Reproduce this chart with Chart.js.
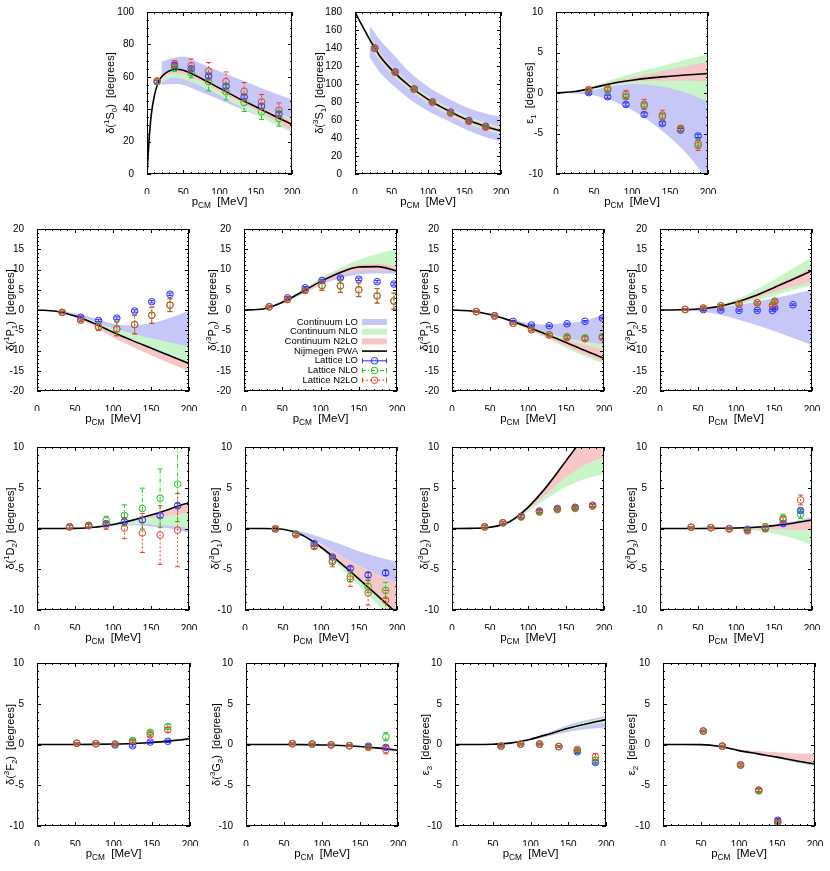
<!DOCTYPE html>
<html>
<head>
<meta charset="utf-8">
<script src="https://cdn.jsdelivr.net/npm/chart.js@4.4.1/dist/chart.umd.min.js"></script>
<style>
  body { margin: 0; background: #fff; }
  #wrap { position: relative; width: 830px; height: 871px; }
  #wrap canvas { position: absolute; left: 0; top: 0; }
</style>
</head>
<body>
<div id="wrap"></div>
<script>
// ── shared momentum grid (MeV) for bands and PWA curves ──────────
const GRID = [0, 25, 50, 75, 100, 125, 150, 175, 200];
const LEGEND = ['Continuum LO', 'Continuum NLO', 'Continuum N2LO', 'Nijmegen PWA', 'Lattice LO', 'Lattice NLO', 'Lattice N2LO'];

// bands are [lower, upper] per grid point, lattice points are [value, error]

// ── 1S0 ──
const p1S0_pwaX = [0, 3, 6, 10, 15, 20, 30, 40, 50, 75, 100, 125, 150, 175, 200];
const p1S0_pwa = [0, 22, 37, 48, 56, 60, 63.5, 64.7, 64, 59, 53, 47, 41.5, 36, 30.6];
const p1S0_bandX = [20, 35, 50, 75, 100, 125, 150, 175, 200];
const p1S0_LO = [[55, 69.5], [55.5, 71.5], [55, 72.5], [50.5, 68], [46, 63.5], [41, 59], [36.5, 54.5], [32, 50], [28, 46]];
const p1S0_NLO = [[56.5, 59.5], [59.5, 63.5], [58.5, 62.5], [54, 58.5], [48.5, 53.5], [42.5, 47.5], [36.5, 42], [31, 38], [25.5, 34.3]];
const p1S0_N2LO = [[58.5, 60.5], [62, 65], [61.5, 64.5], [57, 60], [51, 54], [45, 48], [39.5, 42.5], [33, 37.5], [27, 33.3]];
const p1S0_latX = [14, 38, 61, 85, 109, 134, 158, 182];
const p1S0_latLO = [[57, 0.8], [67, 1], [65, 1], [60.4, 1.2], [54.2, 1.2], [47.6, 1.2], [41.9, 1.3], [37, 1.3]];
const p1S0_latNLO = [[57, 1.5], [65.5, 2], [62.4, 3], [56.9, 5.6], [50.7, 5], [44.1, 5.5], [38.4, 4.7], [34.3, 4.7]];
const p1S0_latN2LO = [[57.5, 1.5], [68, 2], [67, 4], [63.4, 5.4], [57, 6], [51, 5.5], [44.6, 4.5], [39.4, 4.5]];

// ── 3S1 ──
const p3S1_pwaX = [0, 5, 10, 15, 20, 25, 35, 50, 75, 100, 125, 150, 175, 200];
const p3S1_pwa = [180, 172, 164.5, 157, 149.5, 143, 130, 116, 97.5, 83, 71.5, 61.5, 54, 47.5];
const p3S1_bandX = [20, 35, 50, 75, 100, 125, 150, 175, 200];
const p3S1_LO = [[130, 165], [112, 148], [100, 135], [83, 113], [70, 97], [60, 85], [50, 75], [42, 68], [36, 63.5]];
const p3S1_NLO = [[144, 154], [125, 134], [111.5, 120], [93.5, 101.5], [79, 87], [67.5, 75.5], [57.5, 65.5], [50, 58], [44, 52]];
const p3S1_N2LO = [[146, 152], [127, 132.5], [113, 119], [95, 100], [80.5, 85], [69, 73.5], [59, 63.5], [51.5, 56], [45.5, 50.5]];
const p3S1_latX = [27, 55, 81, 106, 131, 156, 179];
const p3S1_latLO = [[140, 1], [113.5, 1], [94.6, 1], [80.2, 1], [68.8, 1], [59.5, 1], [53, 1]];
const p3S1_latNLO = [[139.5, 1], [113, 1], [94.2, 1], [79.8, 1], [68, 1], [58.8, 1], [52.3, 1]];
const p3S1_latN2LO = [[139.5, 1.5], [113, 1.5], [94.3, 1.5], [79.7, 1.5], [67.6, 1.5], [58.5, 1.5], [52, 1.5]];

// ── eps1 ──
const e1_pwa = [0, 0.18, 0.68, 1.2, 1.58, 1.87, 2.07, 2.25, 2.4];
const e1_LO = [[0, 0], [-0.05, 0.1], [-0.3, 0.4], [-1.0, 0.9], [-2.1, 1.1], [-3.6, 1.1], [-5.5, 0.9], [-7.8, 0.4], [-10.8, -1.0]];
const e1_NLO = [[0, 0], [0.1, 0.2], [0.5, 0.9], [0.9, 1.7], [1.1, 2.4], [1.0, 3.0], [0.6, 3.6], [-0.1, 4.2], [-1.1, 4.8]];
const e1_N2LO = [[0, 0], [0.12, 0.2], [0.6, 0.8], [1.1, 1.4], [1.4, 1.9], [1.5, 2.4], [1.5, 2.9], [1.5, 3.4], [1.4, 3.8]];
const e1_latX = [43, 68, 92, 116, 140, 164, 187];
const e1_latLO = [[0.05, 0.2], [-0.47, 0.2], [-1.42, 0.2], [-2.65, 0.2], [-3.76, 0.2], [-4.58, 0.2], [-5.3, 0.2]];
const e1_latNLO = [[0.35, 0.2], [0.35, 0.3], [-0.47, 0.3], [-1.6, 0.4], [-2.94, 0.4], [-4.5, 0.3], [-6.2, 0.5]];
const e1_latN2LO = [[0.43, 0.2], [0.55, 0.3], [-0.18, 0.5], [-1.38, 0.6], [-2.73, 0.6], [-4.37, 0.3], [-6.5, 0.6]];

// ── 1P1 ──
const p1P1_pwa = [0, -0.3, -1.5, -3.3, -5.5, -7.5, -9.4, -11.3, -13.2];
const p1P1_LO = [[0, 0], [-0.3, -0.2], [-1.5, -0.8], [-3.3, -2], [-5.3, -3.4], [-6.8, -3.8], [-8.2, -3.3], [-9.2, -2], [-9.7, -0.2]];
const p1P1_NLO = [[0, 0], [-0.3, -0.2], [-1.5, -1.2], [-3.3, -2.8], [-5.5, -4.5], [-7.5, -5.8], [-9.4, -7], [-11.3, -8], [-13.2, -9]];
const p1P1_N2LO = [[0, 0], [-0.4, -0.3], [-1.8, -1.5], [-4, -3.3], [-6.8, -5.5], [-9, -7.5], [-11.2, -9.4], [-13.2, -11.3], [-15.1, -13.2]];
const p1P1_latX = [33, 57.5, 81, 105, 128.5, 151, 175];
const p1P1_latLO = [[-0.6, 0.3], [-1.8, 0.3], [-2.6, 0.3], [-2.0, 0.3], [-0.25, 0.3], [2.05, 0.3], [3.9, 0.3]];
const p1P1_latNLO = [[-0.6, 0.3], [-2.5, 0.4], [-4.1, 0.8], [-4.6, 1.7], [-3.6, 2.3], [-1.3, 2.0], [1.2, 1.6]];
const p1P1_latN2LO = [[-0.6, 0.3], [-2.5, 0.4], [-4.3, 0.8], [-4.7, 1.7], [-3.6, 2.3], [-1.3, 2.0], [1.2, 1.6]];

// ── 3P0 ──
const p3P0_pwa = [0, 0.25, 1.9, 4.4, 7.0, 9.2, 10.6, 10.7, 9.6];
const p3P0_LO = [[0, 0], [0.2, 0.25], [1.6, 1.9], [3.8, 4.3], [6.2, 6.9], [7.8, 8.6], [8.8, 9.8], [9.0, 10.0], [9.0, 9.9]];
const p3P0_NLO = [[0, 0], [0.25, 0.3], [1.9, 2.1], [4.5, 4.8], [7.2, 7.9], [9.2, 10.4], [10.3, 12.4], [10.4, 13.9], [10.0, 15.1]];
const p3P0_N2LO = [[0, 0], [0.2, 0.3], [1.7, 2.0], [4.0, 4.6], [6.5, 7.4], [8.4, 9.7], [9.6, 11.2], [9.8, 11.4], [9.6, 10.8]];
const p3P0_latX = [33, 57, 80, 102, 126, 150, 174, 196];
const p3P0_latLO = [[0.8, 0.2], [3.0, 0.2], [5.5, 0.3], [7.3, 0.3], [7.9, 0.3], [7.6, 0.3], [7.0, 0.3], [6.4, 0.3]];
const p3P0_latNLO = [[0.8, 0.2], [2.6, 0.3], [4.9, 0.5], [6.1, 1.2], [6.0, 1.6], [5.0, 1.7], [3.5, 1.8], [2.2, 2.0]];
const p3P0_latN2LO = [[0.8, 0.2], [2.6, 0.3], [4.8, 0.5], [6.0, 1.2], [5.9, 1.6], [5.0, 1.7], [3.5, 1.8], [2.2, 2.0]];

// ── 3P1 ──
const p3P1_pwa = [0, -0.25, -1.1, -2.5, -4.2, -6.1, -8.0, -10.0, -11.9];
const p3P1_LO = [[0, 0], [-0.25, -0.2], [-1.1, -1.0], [-2.6, -2.2], [-4.3, -3.2], [-6.0, -3.6], [-7.2, -3.3], [-8.0, -2.6], [-8.6, -1.2]];
const p3P1_NLO = [[0, 0], [-0.3, -0.2], [-1.2, -1.0], [-2.8, -2.4], [-4.8, -4.0], [-7.0, -5.6], [-9.3, -6.9], [-11.5, -7.8], [-13.3, -8.6]];
const p3P1_N2LO = [[0, 0], [-0.3, -0.25], [-1.2, -1.05], [-2.7, -2.45], [-4.6, -4.1], [-6.7, -5.8], [-8.9, -7.3], [-10.9, -8.6], [-12.7, -9.8]];
const p3P1_latX = [32, 56, 80.4, 104.6, 128, 151.4, 175, 197.8];
const p3P1_latLO = [[-0.4, 0.2], [-1.4, 0.2], [-2.8, 0.2], [-3.7, 0.2], [-3.9, 0.2], [-3.4, 0.2], [-2.8, 0.2], [-2.0, 0.2]];
const p3P1_latNLO = [[-0.4, 0.2], [-1.5, 0.2], [-3.3, 0.3], [-4.8, 0.3], [-6.1, 0.3], [-6.6, 0.4], [-6.9, 0.5], [-6.6, 0.5]];
const p3P1_latN2LO = [[-0.4, 0.2], [-1.5, 0.2], [-3.3, 0.3], [-4.9, 0.3], [-6.2, 0.3], [-6.8, 0.4], [-7.1, 0.5], [-6.8, 0.5]];

// ── 3P2 ──
const p3P2_pwa = [0, 0.05, 0.25, 0.8, 1.9, 3.5, 5.5, 7.6, 9.7];
const p3P2_LO = [[0, 0], [-0.05, 0.05], [-0.3, 0.2], [-1.0, 0.6], [-2.2, 1.2], [-3.6, 2.0], [-5.2, 2.9], [-6.9, 3.9], [-8.7, 5.0]];
const p3P2_NLO = [[0, 0], [0.05, 0.05], [0.2, 0.3], [0.6, 1.0], [1.3, 2.6], [2.3, 4.8], [3.5, 7.5], [4.9, 10.3], [6.2, 13.0]];
const p3P2_N2LO = [[0, 0], [0.05, 0.05], [0.22, 0.28], [0.7, 0.9], [1.6, 2.2], [2.9, 3.9], [4.4, 6.0], [5.8, 8.2], [7.0, 10.5]];
const p3P2_latXLO = [33, 57, 80, 104, 128, 148, 151, 175];
const p3P2_latX = [33, 57, 80, 104, 128, 148, 151];
const p3P2_latLO = [[0.1, 0.2], [0.1, 0.2], [0, 0.2], [-0.1, 0.2], [-0.1, 0.2], [-0.1, 0.2], [0.5, 0.2], [1.3, 0.2]];
const p3P2_latNLO = [[0.15, 0.2], [0.45, 0.2], [1.0, 0.3], [1.5, 0.3], [1.8, 0.3], [1.2, 0.3], [2.2, 0.3]];
const p3P2_latN2LO = [[0.15, 0.2], [0.5, 0.2], [1.05, 0.3], [1.5, 0.3], [1.75, 0.3], [1.1, 0.3], [2.1, 0.3]];

// ── 1D2 ──
const p1D2_pwa = [0, 0, 0.02, 0.15, 0.5, 1.0, 1.65, 2.4, 3.2];
const p1D2_LO = [[0, 0], [0, 0], [0, 0.02], [0.1, 0.15], [0.35, 0.5], [0.4, 0.6], [0.25, 0.55], [0, 0.4], [-0.5, 0.1]];
const p1D2_NLO = [[0, 0], [0, 0], [0, 0.02], [0.1, 0.15], [0.4, 0.5], [0.55, 0.9], [0.5, 1.3], [0.35, 1.65], [0.1, 2.0]];
const p1D2_N2LO = [[0, 0], [0, 0], [0.01, 0.02], [0.13, 0.15], [0.47, 0.5], [0.85, 1.0], [1.25, 1.65], [1.6, 2.4], [1.95, 3.2]];
const p1D2_latX = [43, 68, 91, 115, 138.6, 162, 185];
const p1D2_latLO = [[0.2, 0.2], [0.35, 0.2], [0.6, 0.2], [0.85, 0.3], [1.05, 0.3], [1.6, 0.3], [2.8, 0.3]];
const p1D2_latNLO = [[0.2, 0.2], [0.4, 0.2], [1.0, 0.5], [1.6, 1.3], [2.45, 2.5], [3.7, 3.6], [5.45, 4.6]];
const p1D2_latN2LO = [[0.2, 0.2], [0.35, 0.2], [0.4, 0.5], [0.05, 1.3], [-0.55, 2.4], [-0.8, 3.6], [-0.2, 4.5]];

// ── 3D1 ──
const p3D1_pwa = [0, 0, -0.1, -0.8, -2.3, -4.2, -6.2, -8.3, -10.4];
const p3D1_LO = [[0, 0], [0, 0], [-0.1, -0.05], [-0.7, -0.4], [-1.9, -1.1], [-3.3, -1.9], [-4.6, -2.8], [-5.7, -3.5], [-6.8, -4.1]];
const p3D1_NLO = [[0, 0], [0, 0], [-0.12, -0.1], [-0.9, -0.8], [-2.5, -2.3], [-4.7, -4.2], [-7.0, -6.2], [-9.4, -8.3], [-11.8, -10.4]];
const p3D1_N2LO = [[0, 0], [0, 0], [-0.1, -0.1], [-0.8, -0.7], [-2.3, -2.0], [-4.2, -3.3], [-6.2, -4.6], [-8.3, -5.7], [-10.4, -6.8]];
const p3D1_latX = [40, 67, 91, 115, 138.5, 162, 185];
const p3D1_latLO = [[-0.05, 0.2], [-0.7, 0.2], [-1.85, 0.2], [-3.5, 0.2], [-4.9, 0.2], [-5.7, 0.3], [-5.45, 0.3]];
const p3D1_latNLO = [[-0.05, 0.2], [-0.7, 0.2], [-2.15, 0.3], [-3.9, 0.5], [-5.9, 0.6], [-7.1, 0.8], [-7.6, 1.0]];
const p3D1_latN2LO = [[-0.05, 0.2], [-0.75, 0.2], [-2.2, 0.3], [-4.1, 0.6], [-6.2, 0.9], [-7.9, 1.5], [-8.8, 1.2]];

// ── 3D2 ──
const p3D2_pwa = [0, 0.02, 0.15, 0.8, 2.6, 5.2, 8.3, 11.5, 15];
const p3D2_NLO = [[0, 0], [0.02, 0.02], [0.14, 0.15], [0.7, 0.8], [2.1, 2.5], [3.7, 4.6], [5.1, 6.5], [6.1, 7.8], [6.7, 8.7]];
const p3D2_N2LO = [[0, 0], [0.02, 0.02], [0.15, 0.15], [0.75, 0.8], [2.3, 2.6], [4.3, 5.2], [6.3, 8.3], [7.8, 11.5], [8.7, 15]];
const p3D2_latX = [43, 67, 91, 115, 138.6, 162, 185];
const p3D2_latLO = [[0.2, 0.15], [0.7, 0.15], [1.5, 0.15], [2.15, 0.15], [2.45, 0.15], [2.6, 0.15], [2.85, 0.15]];
const p3D2_latNLO = [[0.18, 0.15], [0.68, 0.15], [1.4, 0.15], [2.0, 0.15], [2.3, 0.15], [2.45, 0.15], [2.75, 0.15]];
const p3D2_latN2LO = [[0.2, 0.15], [0.7, 0.15], [1.45, 0.15], [2.1, 0.15], [2.4, 0.15], [2.55, 0.15], [2.8, 0.15]];

// ── 3D3 ──
const p3D3_pwa = [0, 0, 0, 0.02, 0.06, 0.15, 0.35, 0.65, 1.05];
const p3D3_LO = [[0, 0], [0, 0], [0, 0], [0.02, 0.03], [0.05, 0.08], [0.13, 0.2], [0.3, 0.45], [0.55, 0.85], [0.9, 1.45]];
const p3D3_NLO = [[0, 0], [0, 0], [0, 0], [0, 0.02], [-0.05, 0.05], [-0.25, 0.1], [-0.6, 0.2], [-1.2, 0.2], [-2.0, 0.2]];
const p3D3_N2LO = [[0, 0], [0, 0], [0, 0], [0, 0.02], [0, 0.06], [-0.05, 0.15], [-0.1, 0.35], [-0.15, 0.65], [-0.2, 1.0]];
const p3D3_latX = [41, 67, 91, 115, 138.5, 162, 185];
const p3D3_latLO = [[0.15, 0.1], [0.1, 0.1], [0, 0.1], [-0.1, 0.15], [0, 0.2], [0.6, 0.2], [2.2, 0.2]];
const p3D3_latNLO = [[0.15, 0.1], [0.1, 0.1], [-0.05, 0.1], [-0.2, 0.2], [0.2, 0.4], [1.25, 0.5], [1.75, 0.5]];
const p3D3_latN2LO = [[0.15, 0.1], [0.1, 0.1], [-0.05, 0.1], [-0.3, 0.2], [0, 0.4], [1.05, 0.4], [3.5, 0.6]];

// ── 3F2 ──
const p3F2_pwa = [0, 0, 0, 0.02, 0.06, 0.13, 0.25, 0.45, 0.7];
const p3F2_LO = [[0, 0], [0, 0], [-0.02, 0.02], [-0.02, 0.06], [0.01, 0.11], [0.07, 0.19], [0.17, 0.33], [0.34, 0.56], [0.56, 0.84]];
const p3F2_NLO = [[0, 0], [0, 0], [0, 0], [0.01, 0.03], [0.04, 0.08], [0.1, 0.16], [0.21, 0.29], [0.4, 0.5], [0.63, 0.77]];
const p3F2_N2LO = [[0, 0], [0, 0], [0, 0], [0.015, 0.025], [0.05, 0.07], [0.12, 0.14], [0.23, 0.27], [0.43, 0.47], [0.67, 0.73]];
const p3F2_latX = [52, 77, 102, 125, 148, 171];
const p3F2_latLO = [[0.15, 0.1], [0.1, 0.1], [-0.05, 0.1], [-0.15, 0.15], [0.3, 0.15], [0.4, 0.15]];
const p3F2_latNLO = [[0.15, 0.1], [0.1, 0.1], [0.05, 0.1], [0.5, 0.2], [1.5, 0.25], [2.2, 0.3]];
const p3F2_latN2LO = [[0.15, 0.1], [0.1, 0.1], [0.05, 0.1], [0.3, 0.2], [1.2, 0.25], [1.8, 0.3]];

// ── 3G3 ──
const p3G3_pwa = [0, 0, 0, -0.02, -0.06, -0.12, -0.25, -0.45, -0.7];
const p3G3_LO = [[0, 0], [0, 0], [-0.02, 0.02], [-0.05, 0.01], [-0.1, -0.02], [-0.18, -0.06], [-0.33, -0.17], [-0.56, -0.34], [-0.85, -0.56]];
const p3G3_NLO = [[0, 0], [0, 0], [0, 0], [-0.03, -0.01], [-0.08, -0.04], [-0.15, -0.09], [-0.29, -0.21], [-0.5, -0.4], [-0.77, -0.63]];
const p3G3_N2LO = [[0, 0], [0, 0], [0, 0], [-0.025, -0.015], [-0.07, -0.05], [-0.13, -0.11], [-0.27, -0.23], [-0.47, -0.43], [-0.73, -0.67]];
const p3G3_latX = [61, 87, 112, 136, 161, 184];
const p3G3_latLO = [[0.1, 0.1], [0.05, 0.1], [-0.05, 0.1], [-0.15, 0.1], [-0.2, 0.15], [-0.35, 0.2]];
const p3G3_latNLO = [[0.1, 0.1], [0.05, 0.1], [-0.05, 0.1], [-0.15, 0.1], [-0.3, 0.15], [0.95, 0.5]];
const p3G3_latN2LO = [[0.1, 0.1], [0.05, 0.1], [-0.05, 0.1], [-0.15, 0.1], [-0.35, 0.15], [-0.65, 0.5]];

// ── eps3 ──
const e3_pwa = [0, 0, 0.03, 0.2, 0.65, 1.3, 2.0, 2.55, 3.05];
const e3_LO = [[0, 0], [0, 0], [0.02, 0.04], [0.15, 0.25], [0.55, 0.75], [1.05, 1.5], [1.55, 2.4], [1.9, 3.0], [2.1, 3.5]];
const e3_NLO = [[0, 0], [0, 0], [0.03, 0.03], [0.18, 0.22], [0.6, 0.7], [1.2, 1.4], [1.8, 2.2], [2.3, 2.8], [2.7, 3.3]];
const e3_N2LO = [[0, 0], [0, 0], [0.03, 0.03], [0.19, 0.21], [0.62, 0.68], [1.25, 1.35], [1.9, 2.1], [2.45, 2.65], [2.9, 3.2]];
const e3_latX = [61, 87, 112, 137.5, 162, 186];
const e3_latLO = [[-0.2, 0.1], [0.05, 0.1], [0.05, 0.1], [-0.25, 0.1], [-0.9, 0.15], [-2.2, 0.2]];
const e3_latNLO = [[-0.2, 0.1], [0.05, 0.1], [0.05, 0.1], [-0.25, 0.1], [-0.75, 0.15], [-1.9, 0.3]];
const e3_latN2LO = [[-0.2, 0.1], [0.05, 0.1], [0.05, 0.1], [-0.25, 0.1], [-0.6, 0.15], [-1.5, 0.4]];

// ── eps2 ──
const e2_pwa = [0, 0, -0.02, -0.25, -0.75, -1.15, -1.55, -2.0, -2.4];
const e2_LO = [[0, 0], [0, 0], [-0.03, -0.01], [-0.28, -0.22], [-0.8, -0.7], [-1.25, -1.05], [-1.7, -1.4], [-2.2, -1.8], [-2.65, -2.2]];
const e2_N2LO = [[0, 0], [0, 0], [-0.02, -0.02], [-0.25, -0.2], [-0.75, -0.6], [-1.15, -0.8], [-1.55, -0.95], [-2.0, -1.1], [-2.35, -1.15]];
const e2_latX = [53, 78, 102, 126, 151];
const e2_latLO = [[1.65, 0.1], [-0.2, 0.1], [-2.5, 0.15], [-5.6, 0.2], [-9.3, 0.2]];
const e2_latNLO = [[1.65, 0.1], [-0.2, 0.1], [-2.55, 0.15], [-5.7, 0.2], [-9.6, 0.2]];
const e2_latN2LO = [[1.65, 0.1], [-0.2, 0.1], [-2.5, 0.15], [-5.6, 0.2], [-9.5, 0.2]];

// ── panel layout (plot box in page px, y-title x, y axis [min,max,step,minor]) ──
const Y20 = [-20, 20, 5, 5], Y10 = [-10, 10, 5, 5];
const PANELS = [
  { title: 'δ(^1S_0)  [degrees]', box: [147, 12, 292, 174], ttlX: 110, y: [0, 100, 20, 4],
    pwaX: p1S0_pwaX, pwa: p1S0_pwa, bandX: p1S0_bandX, bands: { LO: p1S0_LO, NLO: p1S0_NLO, N2LO: p1S0_N2LO },
    latX: p1S0_latX, lat: { LO: p1S0_latLO, NLO: p1S0_latNLO, N2LO: p1S0_latN2LO } },
  { title: 'δ(^3S_1)  [degrees]', box: [355, 12, 501, 174], ttlX: 319, y: [0, 180, 20, 4],
    pwaX: p3S1_pwaX, pwa: p3S1_pwa, bandX: p3S1_bandX, bands: { LO: p3S1_LO, NLO: p3S1_NLO, N2LO: p3S1_N2LO },
    latX: p3S1_latX, lat: { LO: p3S1_latLO, NLO: p3S1_latNLO, N2LO: p3S1_latN2LO } },
  { title: 'ε_1  [degrees]', box: [556, 12, 708, 174], ttlX: 529, y: Y10,
    pwa: e1_pwa, bands: { LO: e1_LO, NLO: e1_NLO, N2LO: e1_N2LO },
    latX: e1_latX, lat: { LO: e1_latLO, NLO: e1_latNLO, N2LO: e1_latN2LO } },

  { title: 'δ(^1P_1)  [degrees]', box: [37, 229, 189, 391], ttlX: 10, y: Y20,
    pwa: p1P1_pwa, bands: { LO: p1P1_LO, NLO: p1P1_NLO, N2LO: p1P1_N2LO },
    latX: p1P1_latX, lat: { LO: p1P1_latLO, NLO: p1P1_latNLO, N2LO: p1P1_latN2LO } },
  { title: 'δ(^3P_0)  [degrees]', box: [244, 229, 397, 391], ttlX: 212, y: Y20, legend: true,
    pwa: p3P0_pwa, bands: { LO: p3P0_LO, NLO: p3P0_NLO, N2LO: p3P0_N2LO },
    latX: p3P0_latX, lat: { LO: p3P0_latLO, NLO: p3P0_latNLO, N2LO: p3P0_latN2LO } },
  { title: 'δ(^3P_1)  [degrees]', box: [452, 229, 604, 391], ttlX: 424, y: Y20,
    pwa: p3P1_pwa, bands: { LO: p3P1_LO, NLO: p3P1_NLO, N2LO: p3P1_N2LO },
    latX: p3P1_latX, lat: { LO: p3P1_latLO, NLO: p3P1_latNLO, N2LO: p3P1_latN2LO } },
  { title: 'δ(^3P_2)  [degrees]', box: [660, 229, 812, 391], ttlX: 631, y: Y20,
    pwa: p3P2_pwa, bands: { LO: p3P2_LO, NLO: p3P2_NLO, N2LO: p3P2_N2LO },
    latX: p3P2_latX, latXLO: p3P2_latXLO, lat: { LO: p3P2_latLO, NLO: p3P2_latNLO, N2LO: p3P2_latN2LO } },

  { title: 'δ(^1D_2)  [degrees]', box: [37, 447, 189, 610], ttlX: 10, y: Y10,
    pwa: p1D2_pwa, bands: { LO: p1D2_LO, NLO: p1D2_NLO, N2LO: p1D2_N2LO },
    latX: p1D2_latX, lat: { LO: p1D2_latLO, NLO: p1D2_latNLO, N2LO: p1D2_latN2LO } },
  { title: 'δ(^3D_1)  [degrees]', box: [245, 447, 397, 610], ttlX: 215, y: Y10,
    pwa: p3D1_pwa, bands: { LO: p3D1_LO, NLO: p3D1_NLO, N2LO: p3D1_N2LO },
    latX: p3D1_latX, lat: { LO: p3D1_latLO, NLO: p3D1_latNLO, N2LO: p3D1_latN2LO } },
  { title: 'δ(^3D_2)  [degrees]', box: [452, 447, 604, 610], ttlX: 424, y: Y10,
    pwa: p3D2_pwa, bands: { NLO: p3D2_NLO, N2LO: p3D2_N2LO },
    latX: p3D2_latX, lat: { LO: p3D2_latLO, NLO: p3D2_latNLO, N2LO: p3D2_latN2LO } },
  { title: 'δ(^3D_3)  [degrees]', box: [660, 447, 812, 610], ttlX: 631, y: Y10,
    pwa: p3D3_pwa, bands: { LO: p3D3_LO, NLO: p3D3_NLO, N2LO: p3D3_N2LO },
    latX: p3D3_latX, lat: { LO: p3D3_latLO, NLO: p3D3_latNLO, N2LO: p3D3_latN2LO } },

  { title: 'δ(^3F_2)  [degrees]', box: [37, 663, 190, 826], ttlX: 10, y: Y10,
    pwa: p3F2_pwa, bands: { LO: p3F2_LO, NLO: p3F2_NLO, N2LO: p3F2_N2LO },
    latX: p3F2_latX, lat: { LO: p3F2_latLO, NLO: p3F2_latNLO, N2LO: p3F2_latN2LO } },
  { title: 'δ(^3G_3)  [degrees]', box: [246, 663, 398, 826], ttlX: 216, y: Y10,
    pwa: p3G3_pwa, bands: { LO: p3G3_LO, NLO: p3G3_NLO, N2LO: p3G3_N2LO },
    latX: p3G3_latX, lat: { LO: p3G3_latLO, NLO: p3G3_latNLO, N2LO: p3G3_latN2LO } },
  { title: 'ε_3  [degrees]', box: [455, 663, 606, 826], ttlX: 425, y: Y10,
    pwa: e3_pwa, bands: { LO: e3_LO, NLO: e3_NLO, N2LO: e3_N2LO },
    latX: e3_latX, lat: { LO: e3_latLO, NLO: e3_latNLO, N2LO: e3_latN2LO } },
  { title: 'ε_2  [degrees]', box: [663, 663, 815, 826], ttlX: 631, y: Y10,
    pwa: e2_pwa, bands: { LO: e2_LO, N2LO: e2_N2LO },
    latX: e2_latX, lat: { LO: e2_latLO, NLO: e2_latNLO, N2LO: e2_latN2LO } },
];

// ── styles ──
const ORDERS = ['LO', 'NLO', 'N2LO'];
const COL = { LO: '#2b2bff', NLO: '#22c022', N2LO: '#e8432d' };
const BAND = { LO: '#c6c6f7', NLO: '#c8f5c8', N2LO: '#f7c6c6' };
const DASH = { LO: [], NLO: [4, 2, 1, 2], N2LO: [2, 2] };
const FONT = '"Liberation Sans", Arial, Helvetica, sans-serif';
const TITLE_PX = 11;
const W = 830, H = 871;

Chart.defaults.font.family = FONT;
Chart.defaults.font.size = 10;
Chart.defaults.color = '#000';

function parseRich(s) {
  const segs = [];
  let i = 0;
  while (i < s.length) {
    const c = s[i];
    if (c === '^' || c === '_') {
      let t;
      if (s[i + 1] === '{') { const j = s.indexOf('}', i); t = s.slice(i + 2, j); i = j + 1; }
      else { t = s[i + 1]; i += 2; }
      segs.push({ t, k: c === '^' ? 1 : -1 });
    } else {
      let j = i;
      while (j < s.length && s[j] !== '^' && s[j] !== '_') j++;
      segs.push({ t: s.slice(i, j), k: 0 });
      i = j;
    }
  }
  return segs;
}

// text centred on (x, y), with ^sup and _sub
function drawRich(ctx, s, x, y, size) {
  const segs = parseRich(s);
  const f = g => `${g.k ? size * 0.72 : size}px ${FONT}`;
  let w = 0;
  segs.forEach(g => { ctx.font = f(g); g.w = ctx.measureText(g.t).width; w += g.w; });
  let cx = x - w / 2;
  ctx.textAlign = 'left';
  ctx.textBaseline = 'alphabetic';
  const base = y + size * 0.35;
  segs.forEach(g => {
    ctx.font = f(g);
    const dy = g.k === 1 ? -size * 0.42 : g.k === -1 ? size * 0.25 : 0;
    ctx.fillText(g.t, cx, base + dy);
    cx += g.w;
  });
}

function errSample(ctx, o, x0, x1, y) {
  ctx.strokeStyle = COL[o];
  ctx.lineWidth = 1;
  ctx.setLineDash(DASH[o]);
  ctx.beginPath(); ctx.moveTo(x0, y); ctx.lineTo(x1, y); ctx.stroke();
  ctx.setLineDash([]);
  ctx.beginPath();
  ctx.moveTo(x0 + 0.5, y - 2.5); ctx.lineTo(x0 + 0.5, y + 2.5);
  ctx.moveTo(x1 - 0.5, y - 2.5); ctx.lineTo(x1 - 0.5, y + 2.5);
  ctx.stroke();
  ctx.beginPath(); ctx.arc((x0 + x1) / 2, y, 3.3, 0, Math.PI * 2); ctx.stroke();
}

function deco(cfg) {
  return {
    id: 'deco',
    afterDatasetsDraw(chart) {
      const ctx = chart.ctx, xs = chart.scales.x, ys = chart.scales.y, a = chart.chartArea;
      ctx.save();
      ctx.beginPath(); ctx.rect(a.left, a.top, a.right - a.left, a.bottom - a.top); ctx.clip();
      ctx.lineWidth = 1;
      chart.data.datasets.forEach(d => {
        if (!d.errs) return;
        ctx.strokeStyle = COL[d.ord];
        d.data.forEach((p, i) => {
          const e = d.errs[i];
          const x = xs.getPixelForValue(p.x);
          const y1 = ys.getPixelForValue(p.y - e), y2 = ys.getPixelForValue(p.y + e);
          ctx.setLineDash(DASH[d.ord]);
          ctx.beginPath(); ctx.moveTo(x, y1); ctx.lineTo(x, y2); ctx.stroke();
          ctx.setLineDash([]);
          ctx.beginPath();
          ctx.moveTo(x - 2.5, y1); ctx.lineTo(x + 2.5, y1);
          ctx.moveTo(x - 2.5, y2); ctx.lineTo(x + 2.5, y2);
          ctx.stroke();
        });
      });
      ctx.restore();
    },
    afterDraw(chart) {
      const ctx = chart.ctx, xs = chart.scales.x, ys = chart.scales.y, a = chart.chartArea;
      ctx.save();
      ctx.strokeStyle = '#000';
      ctx.lineWidth = 1;
      ctx.strokeRect(a.left + 0.5, a.top + 0.5, a.right - a.left - 1, a.bottom - a.top - 1);

      // inward ticks on all four sides
      ctx.beginPath();
      for (let v = 0; v <= 200; v += 10) {
        const x = Math.round(xs.getPixelForValue(v)) + 0.5, len = v % 50 === 0 ? 4 : 2;
        ctx.moveTo(x, a.bottom); ctx.lineTo(x, a.bottom - len);
        ctx.moveTo(x, a.top); ctx.lineTo(x, a.top + len);
      }
      const [ymin, ymax, ystep, ysub] = cfg.y;
      const n = Math.round((ymax - ymin) / ystep * ysub);
      for (let k = 0; k <= n; k++) {
        const y = Math.round(ys.getPixelForValue(ymin + k * ystep / ysub)) + 0.5, len = k % ysub === 0 ? 4 : 2;
        ctx.moveTo(a.left, y); ctx.lineTo(a.left + len, y);
        ctx.moveTo(a.right, y); ctx.lineTo(a.right - len, y);
      }
      ctx.stroke();

      // axis titles
      ctx.fillStyle = '#000';
      drawRich(ctx, 'p_{CM}  [MeV]', (a.left + a.right) / 2, a.bottom + 27, TITLE_PX + 0.5);
      ctx.save();
      ctx.translate(cfg.ttlX, (a.top + a.bottom) / 2);
      ctx.rotate(-Math.PI / 2);
      drawRich(ctx, cfg.title, 0, 0, TITLE_PX);
      ctx.restore();

      // key inside the 3P0 panel
      if (cfg.legend) {
        const tx = a.left + 114, sx0 = a.left + 118, sx1 = a.left + 143, y0 = a.top + 93, dy = 9.7;
        ctx.font = `9.5px ${FONT}`;
        ctx.textAlign = 'right';
        ctx.textBaseline = 'middle';
        LEGEND.forEach((label, i) => {
          const y = y0 + i * dy;
          ctx.fillStyle = '#000';
          ctx.fillText(label, tx, y);
          if (i < 3) {
            ctx.fillStyle = BAND[ORDERS[i]];
            ctx.fillRect(sx0, y - 3, sx1 - sx0, 6);
          } else if (i === 3) {
            ctx.strokeStyle = '#000'; ctx.lineWidth = 1.6;
            ctx.beginPath(); ctx.moveTo(sx0, y); ctx.lineTo(sx1, y); ctx.stroke();
          } else {
            errSample(ctx, ORDERS[i - 4], sx0, sx1, y);
          }
        });
      }
      ctx.restore();
    }
  };
}

const wrap = document.getElementById('wrap');

PANELS.forEach(cfg => {
  const cv = document.createElement('canvas');
  cv.width = W; cv.height = H;
  wrap.appendChild(cv);
  const [L, T, R, B] = cfg.box;
  const datasets = [];
  const bx = cfg.bandX || GRID;

  ORDERS.forEach((o, k) => {
    const b = cfg.bands[o];
    if (!b) return;
    const base = { showLine: true, pointRadius: 0, borderWidth: 0, borderColor: 'rgba(0,0,0,0)',
      cubicInterpolationMode: 'monotone', order: 30 - k * 2 };
    datasets.push({ ...base, data: bx.map((x, i) => ({ x, y: b[i][0] })), fill: false });
    datasets.push({ ...base, data: bx.map((x, i) => ({ x, y: b[i][1] })), fill: '-1', backgroundColor: BAND[o] });
  });

  const px = cfg.pwaX || GRID;
  datasets.push({ data: px.map((x, i) => ({ x, y: cfg.pwa[i] })), showLine: true, fill: false,
    borderColor: '#000', borderWidth: 1.6, pointRadius: 0, cubicInterpolationMode: 'monotone', order: 10 });

  ORDERS.forEach((o, k) => {
    const v = cfg.lat[o];
    const xs = (o === 'LO' && cfg.latXLO) || cfg.latX;
    datasets.push({ data: xs.map((x, i) => ({ x, y: v[i][0] })), errs: v.map(p => p[1]), ord: o,
      showLine: false, pointStyle: 'circle', pointRadius: 3.3, pointBorderWidth: 1,
      borderColor: COL[o], backgroundColor: 'rgba(0,0,0,0)', order: 2 - k });
  });

  new Chart(cv, {
    type: 'scatter',
    data: { datasets },
    options: {
      responsive: false,
      animation: false,
      events: [],
      layout: { padding: { left: L - 30, top: T, right: W - R, bottom: H - B - 20 } },
      plugins: { legend: { display: false }, tooltip: { enabled: false } },
      scales: {
        x: {
          type: 'linear', min: 0, max: 200,
          ticks: { stepSize: 50, padding: 5, maxRotation: 0, autoSkip: false, callback: v => String(v) },
          grid: { display: false }, border: { display: false },
          afterFit: s => { s.height = 20; }
        },
        y: {
          type: 'linear', min: cfg.y[0], max: cfg.y[1],
          ticks: { stepSize: cfg.y[2], padding: 5, autoSkip: false, callback: v => String(v) },
          grid: { display: false }, border: { display: false },
          afterFit: s => { s.width = 30; }
        }
      }
    },
    plugins: [deco(cfg)]
  });
});
</script>
</body>
</html>
